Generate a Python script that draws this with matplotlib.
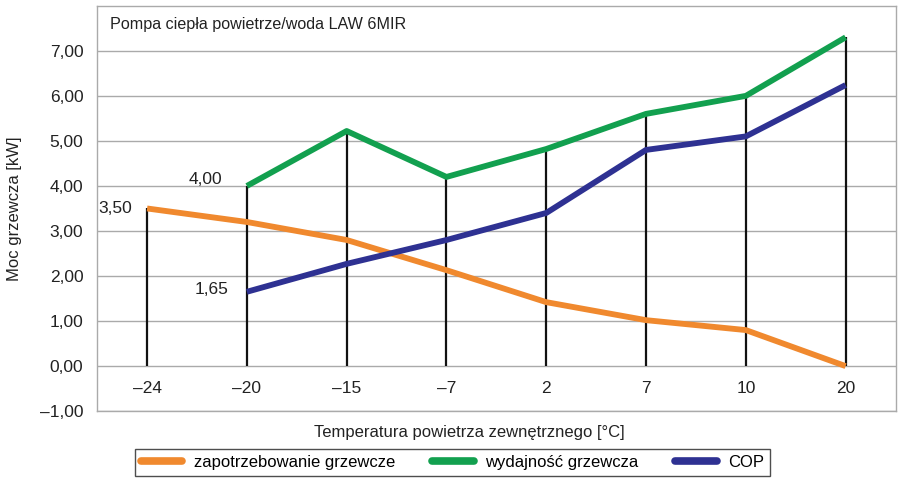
import matplotlib
matplotlib.use("Agg")
import matplotlib.pyplot as plt

plt.rcParams['font.family'] = ['Liberation Sans', 'DejaVu Sans']

# Dane
temperatures = ['\u201324', '\u201320', '\u201315', '\u20137', '2', '7', '10', '20']
demand = [3.50, 3.20, 2.80, 2.13, 1.42, 1.02, 0.80, 0.00]          # zapotrzebowanie grzewcze
capacity = [None, 4.00, 5.22, 4.20, 4.82, 5.60, 6.00, 7.30]         # wydajność grzewcza
cop = [None, 1.65, 2.27, 2.80, 3.40, 4.80, 5.10, 6.24]              # COP
y_ticks = [-1, 0, 1, 2, 3, 4, 5, 6, 7]

ORANGE = '#F0892E'
GREEN = '#12A04F'
BLUE = '#2E3192'
GRID = '#AAAAAA'
TEXT = '#222222'

fig = plt.figure(figsize=(9, 4.82), dpi=100)
ax = fig.add_axes([0.108, 0.147, 0.887, 0.841])

xs = list(range(len(temperatures)))

# pionowe kreski od zera do najwyższej wartości w każdej kategorii
for i in xs:
    vals = [v for v in (demand[i], capacity[i], cop[i]) if v is not None]
    ax.vlines(i, 0, max(vals), color='#111111', lw=1.6, zorder=2)

def pts(series):
    return [i for i, v in enumerate(series) if v is not None], [v for v in series if v is not None]

ax.plot(*pts(demand), color=ORANGE, lw=4.2, solid_capstyle='butt', zorder=3,
        label='zapotrzebowanie grzewcze')
ax.plot(*pts(capacity), color=GREEN, lw=4.2, solid_capstyle='butt', zorder=3,
        label='wydajność grzewcza')
ax.plot(*pts(cop), color=BLUE, lw=4.2, solid_capstyle='butt', zorder=3, label='COP')

ax.set_xlim(-0.5, len(temperatures) - 0.5)
ax.set_ylim(-1, 8)
ax.set_yticks(y_ticks)
ax.set_yticklabels([f'{t:.2f}'.replace('.', ',').replace('-', '\u2013') for t in y_ticks],
                   fontsize=12.5, color=TEXT)
ax.yaxis.grid(True, color=GRID, lw=1.0)
ax.set_axisbelow(True)
ax.tick_params(axis='y', length=0, pad=10)
ax.set_xticks([])
for s in ax.spines.values():
    s.set_color(GRID)
    s.set_linewidth(1.0)

# etykiety temperatur wewnątrz pola wykresu
for i, t in enumerate(temperatures):
    ax.text(i, -0.5, t, ha='center', va='center', fontsize=12.5, color=TEXT)

# opisy wartości
ax.text(-0.15, demand[0], '3,50', ha='right', va='center', fontsize=12.5, color=TEXT)
ax.text(0.75, capacity[1] + 0.15, '4,00', ha='right', va='center', fontsize=12.5, color=TEXT)
ax.text(0.82, cop[1] + 0.05, '1,65', ha='right', va='center', fontsize=12.5, color=TEXT)

ax.text(0.016, 0.955, 'Pompa ciepła powietrze/woda LAW 6MIR', transform=ax.transAxes,
        ha='left', va='center', fontsize=11.6, color=TEXT)

ax.set_ylabel('Moc grzewcza [kW]', fontsize=12, color=TEXT, labelpad=13)
fig.text(0.522, 0.103, 'Temperatura powietrza zewnętrznego [°C]', ha='center', va='center',
         fontsize=12, color=TEXT)

leg = fig.legend(loc='center', bbox_to_anchor=(0.503, 0.041), ncol=3, frameon=True,
                 fancybox=False, edgecolor=TEXT, fontsize=12, handlelength=2.5,
                 columnspacing=2.2, handletextpad=0.7, borderpad=0.35, borderaxespad=0)
leg.get_frame().set_linewidth(1.0)
for line in leg.get_lines():
    line.set_linewidth(5.5)
    line.set_solid_capstyle('round')

fig.savefig('out.png', dpi=100)
